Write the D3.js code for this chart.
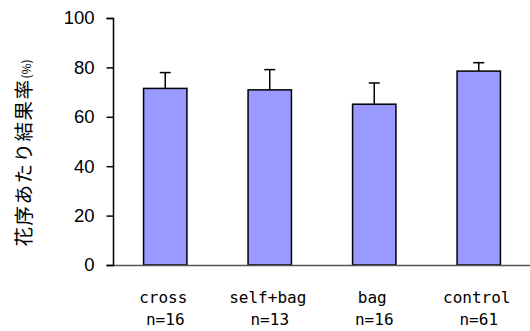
<!DOCTYPE html>
<html>
<head>
<meta charset="utf-8">
<script src="https://cdn.jsdelivr.net/npm/d3@7"></script>
<style>
  html, body { margin: 0; padding: 0; background: #fff; }
  svg { display: block; }
</style>
</head>
<body>
<svg id="chart" width="530" height="331"></svg>
<script>
// Fruit set per inflorescence by pollination treatment (mean + SE)
const categories = ["cross", "self+bag", "bag", "control"];
const sampleSizes = ["n=16", "n=13", "n=16", "n=61"];
const meanValues = [71.5, 70.9, 65.1, 78.5];
const errorValues = [6.4, 8.2, 8.6, 3.4];
const yTicks = [0, 20, 40, 60, 80, 100];
const yTitle = "花序あたり結果率";
const yUnit = "(%)";

const svg = d3.select("#chart");
const plotLeft = 113, plotRight = 531, plotTop = 18, plotBottom = 265;

const x = d3.scaleBand()
  .domain(categories)
  .range([plotLeft, plotRight])
  .paddingInner(0.585)
  .paddingOuter(0.2925);

const y = d3.scaleLinear().domain([0, 100]).range([plotBottom, plotTop]);

// bars
svg.append("g").selectAll("rect")
  .data(categories)
  .join("rect")
  .attr("x", d => x(d))
  .attr("y", (d, i) => y(meanValues[i]))
  .attr("width", x.bandwidth())
  .attr("height", (d, i) => y(0) - y(meanValues[i]))
  .attr("fill", "#9999ff")
  .attr("stroke", "#000")
  .attr("stroke-width", 1.5);

// error bars (upper only)
const err = svg.append("g").attr("stroke", "#000").attr("stroke-width", 1.5);
categories.forEach((c, i) => {
  const cx = x(c) + x.bandwidth() / 2;
  err.append("line")
    .attr("x1", cx).attr("x2", cx)
    .attr("y1", y(meanValues[i])).attr("y2", y(meanValues[i] + errorValues[i]));
  err.append("line")
    .attr("x1", cx - 5.5).attr("x2", cx + 5.5)
    .attr("y1", y(meanValues[i] + errorValues[i]))
    .attr("y2", y(meanValues[i] + errorValues[i]));
});

// x axis baseline
const xAxis = svg.append("g")
  .attr("transform", `translate(0,${plotBottom})`)
  .call(d3.axisBottom(x).tickSize(0).tickSizeOuter(0).tickFormat(""));
xAxis.select(".domain").attr("stroke", "#555").attr("stroke-width", 1.5);

// category labels, two lines each
const labels = svg.append("g")
  .attr("font-family", "'DejaVu Sans Mono', monospace")
  .attr("font-size", 16)
  .attr("fill", "#000")
  .attr("text-anchor", "middle");
categories.forEach((c, i) => {
  const cx = x(c) + x.bandwidth() / 2;
  labels.append("text").attr("x", cx - 2).attr("y", 303).text(c);
  labels.append("text").attr("x", cx).attr("y", 325).text(sampleSizes[i]);
});

// y axis
const yAxis = svg.append("g")
  .attr("transform", `translate(${plotLeft},0)`)
  .call(d3.axisLeft(y).tickValues(yTicks).tickSize(6.5).tickSizeOuter(6.5).tickPadding(12));
yAxis.select(".domain").attr("stroke", "#000").attr("stroke-width", 1.5);
yAxis.selectAll(".tick line").attr("stroke", "#000").attr("stroke-width", 1.5);
yAxis.selectAll(".tick text")
  .attr("font-family", "'Liberation Sans', Arial, sans-serif")
  .attr("font-size", 18.5)
  .attr("fill", "#000");

// y axis title
const title = svg.append("text")
  .attr("transform", "translate(31,153) rotate(-90)")
  .attr("text-anchor", "middle")
  .attr("font-family", "'Noto Sans CJK JP', sans-serif")
  .attr("font-size", 19.5)
  .attr("letter-spacing", 1.5)
  .attr("fill", "#000");
title.append("tspan").text(yTitle);
title.append("tspan").attr("font-size", 12).attr("letter-spacing", 0).text(yUnit);
</script>
</body>
</html>
